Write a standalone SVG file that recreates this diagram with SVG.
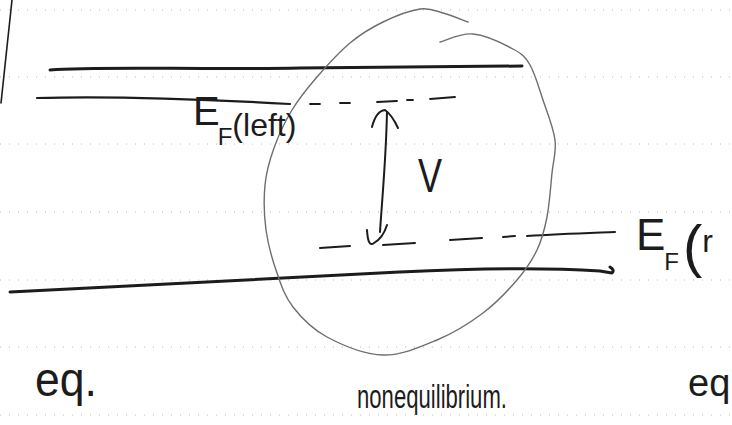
<svg xmlns="http://www.w3.org/2000/svg" width="732" height="425" viewBox="0 0 732 425">
<style>
.rule{stroke:#b8b8b8;stroke-width:1;stroke-dasharray:1 8;fill:none}
.ink{stroke:#1c1c1c;fill:none;stroke-linecap:round;stroke-linejoin:round}
.thick{stroke-width:3}
.mid{stroke-width:2.2}
.pencil{stroke:#6e6e6e;stroke-width:1.4;fill:none;stroke-linecap:round}
.hand{font-family:"Liberation Sans","DejaVu Sans",sans-serif;fill:#1c1c1c}
</style>
<rect width="732" height="425" fill="#ffffff"/>
<g id="ruling">
<line class="rule" x1="0" y1="10" x2="732" y2="10"/>
<line class="rule" x1="0" y1="77" x2="732" y2="77"/>
<line class="rule" x1="0" y1="144" x2="732" y2="144"/>
<line class="rule" x1="0" y1="212" x2="732" y2="212"/>
<line class="rule" x1="0" y1="280" x2="732" y2="280"/>
<line class="rule" x1="0" y1="347" x2="732" y2="347"/>
<line class="rule" x1="0" y1="415" x2="732" y2="415"/>
</g>
<g id="margin">
<path class="ink" stroke-width="1.6" d="M12,0 L1,103"/>
</g>
<g id="bands">
<path class="ink thick" d="M50,70 C100,66 200,70 300,68 C400,67 470,67 522,66"/>
<path class="ink thick" d="M10,292 C100,288 250,279 400,272 C480,268 540,267 600,271 L612,273 Q615,270 610,267"/>
</g>
<g id="fermi-left">
<path class="ink mid" d="M37,98 C100,96 200,99 290,104"/>
<path class="ink" stroke-width="1.8" d="M310,104 L320,104 M340,103 L350,103 M377,102 L397,101 M407,100 L413,100 M430,99 L455,97"/>
</g>
<g id="fermi-right">
<path class="ink" stroke-width="2" d="M320,248 L350,246 M383,245 L415,243 M450,240 L482,238 M503,237 L515,236 M527,236 C560,234 590,233 615,232"/>
</g>
<g id="circle">
<path class="pencil" d="M468,22 C463.8,20.5 451,15.2 443,13 C435,10.8 430,7.5 420,9 C410,10.5 394.7,16.3 383,22 C371.3,27.7 361,33.8 350,43 C339,52.2 326.7,65.8 317,77 C307.3,88.2 299.2,98.2 292,110 C284.8,121.8 278.5,135.5 274,148 C269.5,160.5 266.3,171.3 265,185 C263.7,198.7 264,215.3 266,230 C268,244.7 272.5,260.2 277,273 C281.5,285.8 284.7,296.3 293,307 C301.3,317.7 312,329 327,337 C342,345 364.7,354.5 383,355 C401.3,355.5 420.3,347 437,340 C453.7,333 469.7,323 483,313 C496.3,303 508,290.5 517,280 C526,269.5 532,260.5 537,250 C542,239.5 544.5,229.8 547,217 C549.5,204.2 550.7,185.8 552,173 C553.3,160.2 556.5,152.2 555,140 C553.5,127.8 547.2,112.5 543,100 C538.8,87.5 535,73.5 530,65 C525,56.5 522.5,54.2 513,49 C503.5,43.8 485.2,35.2 473,34 C460.8,32.8 445.5,40.7 440,42"/>
</g>
<g id="connectors">
<path class="ink" stroke-width="2" d="M387,112 C386,160 382,200 380,232"/>
<path class="ink" stroke-width="2" d="M372,127 Q376,111 385,110 Q392,115 398,128"/>
<path class="ink" stroke-width="2" d="M367,230 Q368,248 374,243 Q383,238 387,225"/>
</g>
<g id="label-V">
<text class="hand" x="418" y="192" font-size="48" textLength="24" lengthAdjust="spacingAndGlyphs">V</text>
</g>
<g id="label-EF-left">
<text class="hand" x="193" y="125"><tspan font-size="40">E</tspan><tspan font-size="24" dy="20" dx="-2">F</tspan><tspan font-size="32" dy="-9">(left)</tspan></text>
</g>
<g id="label-EF-right">
<text class="hand" x="636" y="250"><tspan font-size="44">E</tspan><tspan font-size="24" dy="20" dx="-1">F</tspan><tspan font-size="58" dy="-4" dx="4">(</tspan><tspan font-size="32" dy="-14">r</tspan></text>
</g>
<g id="captions">
<text class="hand" x="35" y="396" font-size="48" textLength="62" lengthAdjust="spacingAndGlyphs">eq.</text>
<text class="hand" x="357" y="408" font-size="33" textLength="150" lengthAdjust="spacingAndGlyphs">nonequilibrium.</text>
<text class="hand" x="688" y="396" font-size="38">eq</text>
</g>
</svg>
